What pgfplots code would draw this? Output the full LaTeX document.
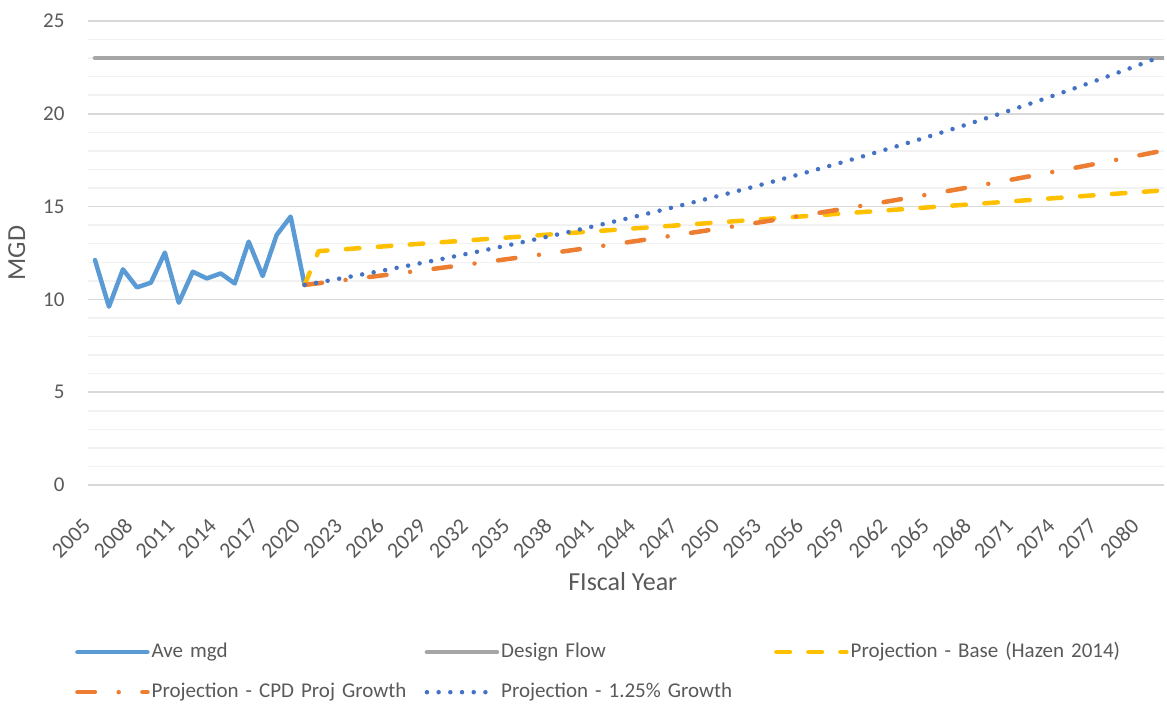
\documentclass[border=0pt]{standalone}
\usepackage{pgfplots}
\pgfplotsset{compat=1.18}
\usepackage{fontspec}
\setmainfont{Carlito}
\definecolor{avecol}{HTML}{5B9BD5}
\definecolor{designcol}{HTML}{A5A5A5}
\definecolor{basecol}{HTML}{FFC000}
\definecolor{cpdcol}{HTML}{ED7D31}
\definecolor{growcol}{HTML}{4472C4}
\definecolor{txtcol}{HTML}{595959}
\definecolor{gridmaj}{HTML}{D9D9D9}
\definecolor{gridmin}{HTML}{F2F2F2}
\begin{document}
\begin{tikzpicture}
\begin{axis}[
  name=main,
  scale only axis,
  width=1076pt, height=464pt,
  xmin=2004.5, xmax=2081.5,
  ymin=0, ymax=25,
  axis line style={draw=none},
  ytick={0,5,...,25},
  minor y tick num=4,
  ymajorgrids, yminorgrids,
  major grid style={draw=gridmaj, line width=1.5pt},
  minor grid style={draw=gridmin, line width=1.5pt},
  xtick={2005,2008,...,2080},
  major tick length=0pt, minor tick length=0pt,
  /pgf/number format/assume math mode=true,
  /pgf/number format/1000 sep={},
  xticklabel style={rotate=45, anchor=east, font=\fontsize{22}{22}\selectfont, text=txtcol, inner sep=2pt, yshift=-21pt, xshift=-30.3pt},
  yticklabel style={font=\fontsize{21}{21}\selectfont, text=txtcol, anchor=east, xshift=-20pt},
  xlabel={FIscal Year},
  ylabel={MGD},
  xlabel style={font=\fontsize{26}{26}\selectfont, text=txtcol, at={(axis description cs:0.497,-0.2263)}, anchor=base},
  ylabel style={font=\fontsize{26}{26}\selectfont, text=txtcol, at={(axis description cs:-0.0663,0.5)}, anchor=center},
  legend columns=3,
  legend image code/.code={\draw[#1] (0pt,0pt) -- (70pt,0pt);},
  legend style={draw=none, fill=none, font=\fontsize{21}{21}\selectfont, text=txtcol,
    at={(axis description cs:-0.0149,-0.3297)}, anchor=north west,
    inner xsep=3pt, inner ysep=2pt, row sep=16pt,
    cells={anchor=west},
    nodes={text width=271pt, align=left, inner sep=2pt, text height=15pt, text depth=5pt}},
  every axis plot/.append style={line width=4.5pt, line cap=round, line join=round},
]
\addplot[avecol] coordinates {
(2005,12.12) (2006,9.61) (2007,11.62) (2008,10.65) (2009,10.90) (2010,12.52)
(2011,9.82) (2012,11.49) (2013,11.13) (2014,11.40) (2015,10.86) (2016,13.11)
(2017,11.26) (2018,13.47) (2019,14.46) (2020,10.78)};
\addlegendentry{Ave mgd}
\addplot[designcol] coordinates {(2005,23) (2081.5,23)};
\addlegendentry{Design Flow}
\addplot[basecol, line cap=round, dash pattern=on 13.5pt off 18.5pt] coordinates {
(2020,10.78) (2021,12.60) (2025,12.82) (2030,13.09) (2035,13.36) (2040,13.63)
(2045,13.90) (2050,14.17) (2055,14.44) (2060,14.71) (2065,14.98) (2070,15.25)
(2075,15.53) (2081,15.85)};
\addlegendentry{Projection - Base (Hazen 2014)}
\addplot[cpdcol, dash pattern=on 17.5pt off 23.75pt on 0pt off 23.75pt] coordinates {
(2020,10.780) (2021,10.871) (2022,10.962) (2023,11.054) (2024,11.147) (2025,11.241)
(2026,11.335) (2027,11.430) (2028,11.526) (2029,11.623) (2030,11.721) (2031,11.819)
(2032,11.918) (2033,12.018) (2034,12.119) (2035,12.221) (2036,12.324) (2037,12.427)
(2038,12.531) (2039,12.636) (2040,12.742) (2041,12.849) (2042,12.957) (2043,13.066)
(2044,13.176) (2045,13.287) (2046,13.399) (2047,13.512) (2048,13.625) (2049,13.739)
(2050,13.854) (2051,13.970) (2052,14.087) (2053,14.205) (2054,14.324) (2055,14.444)
(2056,14.565) (2057,14.687) (2058,14.810) (2059,14.934) (2060,15.059) (2061,15.185)
(2062,15.313) (2063,15.442) (2064,15.572) (2065,15.703) (2066,15.835) (2067,15.968)
(2068,16.102) (2069,16.237) (2070,16.373) (2071,16.511) (2072,16.650) (2073,16.790)
(2074,16.931) (2075,17.073) (2076,17.216) (2077,17.361) (2078,17.507) (2079,17.654)
(2080,17.802) (2081,17.952)};
\addlegendentry{Projection - CPD Proj Growth}
\addplot[growcol, dash pattern=on 0pt off 11.7pt] coordinates {
(2020,10.780) (2021,10.915) (2022,11.051) (2023,11.189) (2024,11.329) (2025,11.471)
(2026,11.614) (2027,11.760) (2028,11.907) (2029,12.055) (2030,12.206) (2031,12.359)
(2032,12.513) (2033,12.670) (2034,12.828) (2035,12.988) (2036,13.151) (2037,13.315)
(2038,13.482) (2039,13.650) (2040,13.821) (2041,13.994) (2042,14.169) (2043,14.346)
(2044,14.525) (2045,14.707) (2046,14.891) (2047,15.077) (2048,15.265) (2049,15.456)
(2050,15.649) (2051,15.845) (2052,16.043) (2053,16.244) (2054,16.447) (2055,16.652)
(2056,16.860) (2057,17.071) (2058,17.285) (2059,17.501) (2060,17.719) (2061,17.941)
(2062,18.165) (2063,18.392) (2064,18.622) (2065,18.855) (2066,19.091) (2067,19.329)
(2068,19.571) (2069,19.816) (2070,20.063) (2071,20.314) (2072,20.568) (2073,20.825)
(2074,21.086) (2075,21.349) (2076,21.616) (2077,21.886) (2078,22.160) (2079,22.437)
(2080,22.717) (2081,23.001)};
\addlegendentry{Projection - 1.25\% Growth}
\end{axis}
\path[use as bounding box] ([xshift=-88pt,yshift=-217pt]main.south west) rectangle ([xshift=3pt,yshift=21pt]main.north east);
\end{tikzpicture}
\end{document}
